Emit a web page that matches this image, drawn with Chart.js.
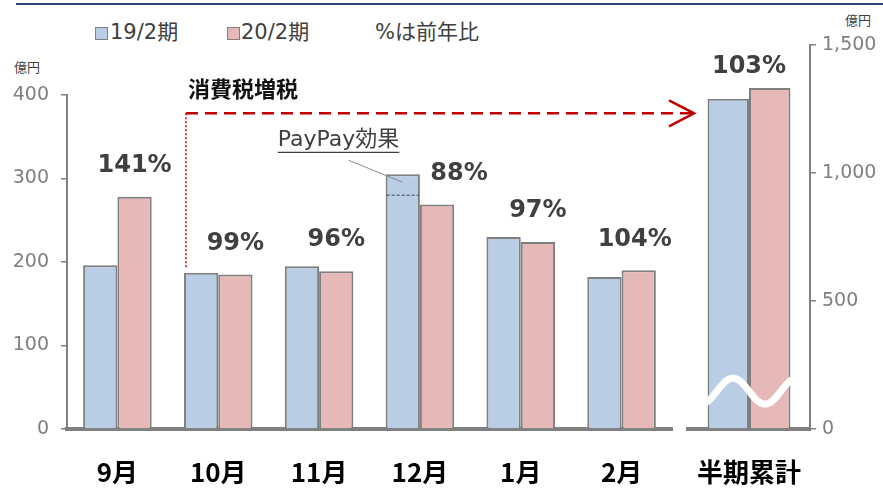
<!DOCTYPE html>
<html>
<head>
<meta charset="utf-8">
<script src="https://cdn.jsdelivr.net/npm/chart.js@4.4.0/dist/chart.umd.min.js"></script>
<style>
  body { margin:0; background:#fff; width:883px; height:488px; overflow:hidden; position:relative;
         font-family:'Noto Sans CJK JP', sans-serif; }
  #c1 { position:absolute; left:0; top:0; }
  #c2 { position:absolute; left:680px; top:0; }
  .t { position:absolute; white-space:nowrap; line-height:1; color:#404040; }
  .lg { font-family:'DejaVu Sans', 'Noto Sans CJK JP', sans-serif; font-size:21px; top:22px; }
  .sw { position:absolute; top:27px; width:11px; height:11px; border:1px solid #7f7f7f; }
  .unit { font-size:13px; color:#404040; }
  .rule { position:absolute; left:16px; top:3px; width:867px; height:2px; background:#2f4a72; }
</style>
</head>
<body>
<div class="rule"></div>
<div class="sw" style="left:95px;background:#b9cde5"></div>
<span class="t lg" style="left:110px">19/2期</span>
<div class="sw" style="left:227px;background:#e6b9b8"></div>
<span class="t lg" style="left:241px">20/2期</span>
<span class="t lg" style="left:375px">%は前年比</span>
<span class="t unit" style="left:14px;top:60px">億円</span>
<span class="t unit" style="left:845px;top:13px">億円</span>
<canvas id="c1" width="883" height="488"></canvas>
<canvas id="c2" width="203" height="488"></canvas>
<script>
// monthly sales (億円)
const months = ['9月', '10月', '11月', '12月', '1月', '2月'];
const sales19 = [196, 187, 195, 305, 230, 182];
const sales20 = [278, 185, 189, 269, 224, 190];
const yoy = [141, 99, 96, 88, 97, 104];
const paypayBase = 280;      // 12月 portion before PayPay effect
const taxLineLevel = 378;    // height of the 消費税増税 arrow on left scale
const leftTicks = [0, 100, 200, 300, 400];

// half-year totals
const halfLabel = ['半期累計'];
const half19 = [1290];
const half20 = [1332];
const halfYoy = [103];
const rightTicks = [0, 500, 1000, 1500];
const breakLevel = 148;

const BLUE = '#b9cde5', PINK = '#e6b9b8', EDGE = '#7f7f7f', INK = '#404040';
const NUM = "'DejaVu Sans', 'Noto Sans CJK JP', sans-serif";
const JP = "'Noto Sans CJK JP', sans-serif";

Chart.defaults.font.family = JP;
Chart.defaults.animation = false;

const barStyle = { borderColor: EDGE, borderWidth: 2, borderSkipped: 'bottom', barPercentage: 1.0 };

const monthNotes = {
  id: 'monthNotes',
  afterDatasetsDraw(chart) {
    const ctx = chart.ctx, ys = chart.scales.y, area = chart.chartArea;
    const blue = chart.getDatasetMeta(0).data, pink = chart.getDatasetMeta(1).data;
    ctx.save();
    // yoy labels
    const dx = [0, 0, 0, 22, 0, -4];
    ctx.fillStyle = INK;
    ctx.font = "bold 24px " + NUM;
    ctx.textAlign = 'center';
    ctx.textBaseline = 'middle';
    yoy.forEach((v, i) => {
      const b = pink[i];
      ctx.fillText(v + '%', b.x + dx[i], b.y - 31);
    });
    // PayPay portion
    const b12 = blue[3];
    const py = ys.getPixelForValue(paypayBase);
    ctx.strokeStyle = INK; ctx.lineWidth = 1; ctx.setLineDash([3, 2]);
    ctx.beginPath(); ctx.moveTo(b12.x - b12.width / 2 + 1, py); ctx.lineTo(b12.x + b12.width / 2 - 1, py); ctx.stroke();
    ctx.setLineDash([]);
    ctx.strokeStyle = '#8c8c8c';
    ctx.beginPath(); ctx.moveTo(b12.x - 54, b12.y - 14); ctx.lineTo(b12.x, b12.y + 8); ctx.stroke();
    ctx.font = "22px " + NUM;
    ctx.textAlign = 'left';
    const tx = b12.x - 125, ty = b12.y - 34;
    ctx.fillText('PayPay効果', tx, ty);
    const tw = ctx.measureText('PayPay効果').width;
    ctx.strokeStyle = INK; ctx.lineWidth = 1.2;
    ctx.beginPath(); ctx.moveTo(tx, ty + 12); ctx.lineTo(tx + tw, ty + 12); ctx.stroke();
    // tax increase arrow
    const ay = ys.getPixelForValue(taxLineLevel);
    const b10 = blue[1];
    const ax = b10.x - b10.width / 2 + 2;
    const aend = area.right + 22;
    ctx.strokeStyle = '#c00000';
    ctx.lineWidth = 1.5; ctx.setLineDash([2, 2]);
    ctx.beginPath(); ctx.moveTo(ax, ay); ctx.lineTo(ax, ys.getPixelForValue(sales19[1]) - 4); ctx.stroke();
    ctx.lineWidth = 2.5; ctx.setLineDash([12, 7]);
    ctx.beginPath(); ctx.moveTo(ax, ay); ctx.lineTo(aend - 2, ay); ctx.stroke();
    ctx.setLineDash([]);
    ctx.beginPath(); ctx.moveTo(aend - 25, ay - 13); ctx.lineTo(aend, ay); ctx.lineTo(aend - 25, ay + 13); ctx.stroke();
    ctx.fillStyle = '#111';
    ctx.font = "bold 22px " + JP;
    ctx.textBaseline = 'middle';
    ctx.fillText('消費税増税', ax + 2, ay - 25);
    ctx.restore();
  }
};

const halfNotes = {
  id: 'halfNotes',
  afterDatasetsDraw(chart) {
    const ctx = chart.ctx, ys = chart.scales.y;
    const b0 = chart.getDatasetMeta(0).data[0], b1 = chart.getDatasetMeta(1).data[0];
    const x0 = b0.x - b0.width / 2 - 1, x1 = b1.x + b1.width / 2 + 1;
    ctx.save();
    // break mark
    ctx.beginPath(); ctx.rect(x0, 0, x1 - x0, chart.chartArea.bottom); ctx.clip();
    const cy = ys.getPixelForValue(breakLevel), peak = b0.x + b0.width / 2 - 16;
    ctx.strokeStyle = '#fff'; ctx.lineWidth = 7;
    ctx.beginPath();
    for (let x = x0 - 4; x <= x1 + 4; x += 1) {
      const y = cy - 13 * Math.cos(2 * Math.PI * (x - peak) / 64);
      if (x === x0 - 4) ctx.moveTo(x, y); else ctx.lineTo(x, y);
    }
    ctx.stroke();
    ctx.restore();
    ctx.save();
    ctx.fillStyle = INK;
    ctx.font = "bold 24px " + NUM;
    ctx.textAlign = 'center'; ctx.textBaseline = 'middle';
    ctx.fillText(halfYoy[0] + '%', (b0.x + b1.x) / 2, b1.y - 21);
    ctx.restore();
  }
};

function xAxis() {
  return {
    grid: { display: false },
    border: { display: true, color: '#808080', width: 4 },
    ticks: { color: '#000', font: { family: JP, size: 26, weight: 'bold' }, padding: 20 },
    afterFit(s) { s.height = 59; s.paddingLeft = 0; s.paddingRight = 0; }
  };
}

new Chart(document.getElementById('c1'), {
  type: 'bar',
  data: {
    labels: months,
    datasets: [
      Object.assign({ label: '19/2期', data: sales19, backgroundColor: BLUE }, barStyle),
      Object.assign({ label: '20/2期', data: sales20, backgroundColor: PINK }, barStyle)
    ]
  },
  options: {
    responsive: false,
    layout: { padding: { top: 95, right: 211, left: 0, bottom: 0 } },
    datasets: { bar: { categoryPercentage: 0.68 } },
    plugins: { legend: { display: false }, tooltip: { enabled: false } },
    scales: {
      x: xAxis(),
      y: {
        min: 0, max: 400,
        afterBuildTicks(s) { s.ticks = leftTicks.map(v => ({ value: v })); },
        afterFit(s) { s.width = 67; },
        grid: { drawOnChartArea: false, drawTicks: true, tickLength: 6, color: '#808080', lineWidth: 1.5 },
        border: { display: true, color: '#808080', width: 2 },
        ticks: { color: '#7f7f7f', font: { family: NUM, size: 19 }, padding: 12 }
      }
    }
  },
  plugins: [monthNotes]
});

new Chart(document.getElementById('c2'), {
  type: 'bar',
  data: {
    labels: halfLabel,
    datasets: [
      Object.assign({ label: '19/2期', data: half19, backgroundColor: BLUE }, barStyle),
      Object.assign({ label: '20/2期', data: half20, backgroundColor: PINK }, barStyle)
    ]
  },
  options: {
    responsive: false,
    layout: { padding: { top: 45, right: 0, left: 8, bottom: 0 } },
    datasets: { bar: { categoryPercentage: 0.68 } },
    plugins: { legend: { display: false }, tooltip: { enabled: false } },
    scales: {
      x: xAxis(),
      y: {
        position: 'right',
        min: 0, max: 1500,
        afterBuildTicks(s) { s.ticks = rightTicks.map(v => ({ value: v })); },
        afterFit(s) { s.width = 73; },
        grid: { drawOnChartArea: false, drawTicks: true, tickLength: 6, color: '#808080', lineWidth: 1.5 },
        border: { display: true, color: '#808080', width: 2 },
        ticks: { color: '#7f7f7f', font: { family: NUM, size: 19 }, padding: 6,
                 callback: v => v.toLocaleString('en-US') }
      }
    }
  },
  plugins: [halfNotes]
});
</script>
</body>
</html>
